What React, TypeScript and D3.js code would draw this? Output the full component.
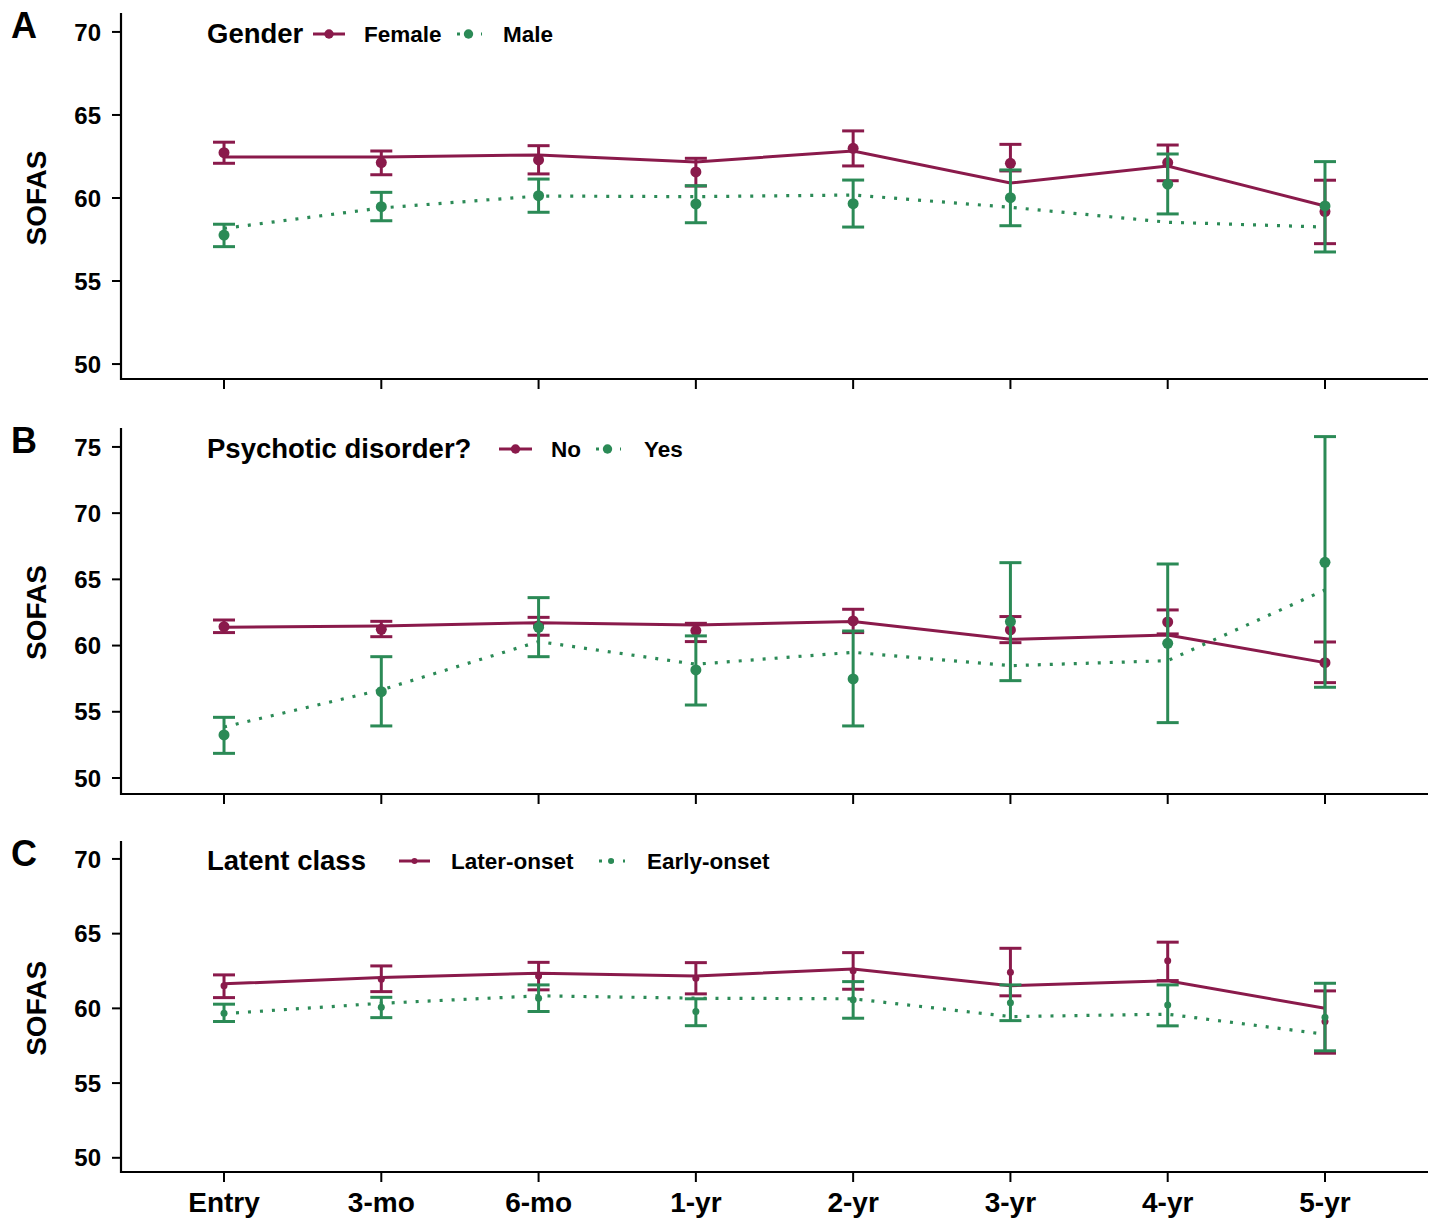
import React from "react";
import * as d3 from "d3";

const timepoints = ["Entry", "3-mo", "6-mo", "1-yr", "2-yr", "3-yr", "4-yr", "5-yr"];

// Panel A: Gender
const femaleFit = [62.47, 62.47, 62.59, 62.17, 62.83, 60.9, 61.93, 59.52];
const femaleMean = [62.73, 62.13, 62.29, 61.57, 62.99, 62.09, 62.13, 59.18];
const femaleLo = [62.09, 61.4, 61.45, 60.72, 61.93, 61.63, 61.04, 57.25];
const femaleHi = [63.36, 62.83, 63.15, 62.39, 64.04, 63.23, 63.19, 61.07];
const maleFit = [58.17, 59.4, 60.12, 60.08, 60.18, 59.44, 58.54, 58.25];
const maleMean = [57.77, 59.48, 60.14, 59.64, 59.66, 60.02, 60.83, 59.52];
const maleLo = [57.07, 58.63, 59.14, 58.51, 58.25, 58.33, 59.04, 56.75];
const maleHi = [58.42, 60.34, 61.14, 60.74, 61.08, 61.69, 62.65, 62.19];

// Panel B: Psychotic disorder?
const noFit = [61.38, 61.48, 61.73, 61.56, 61.81, 60.47, 60.8, 58.71];
const noMean = [61.43, 61.23, 61.5, 61.13, 61.86, 61.18, 61.78, 58.71];
const noLo = [60.98, 60.67, 60.78, 60.3, 60.98, 60.22, 60.88, 57.2];
const noHi = [61.93, 61.83, 62.13, 61.68, 62.74, 62.19, 62.69, 60.27];
const yesFit = [53.85, 56.65, 60.3, 58.59, 59.49, 58.48, 58.86, 64.2];
const yesMean = [53.25, 56.52, 61.38, 58.16, 57.48, 61.81, 60.17, 66.29];
const yesLo = [51.86, 53.93, 59.16, 55.51, 53.93, 57.35, 54.18, 56.85];
const yesHi = [54.58, 59.16, 63.62, 60.73, 61.1, 66.26, 66.16, 75.78];

// Panel C: Latent class
const laterFit = [61.64, 62.06, 62.35, 62.17, 62.64, 61.52, 61.84, 60.01];
const laterMean = [61.51, 61.95, 62.17, 62.02, 62.51, 62.42, 63.18, 59.12];
const laterLo = [60.72, 61.12, 61.24, 60.97, 61.28, 60.84, 61.86, 57.0];
const laterHi = [62.24, 62.84, 63.08, 63.06, 63.73, 64.02, 64.43, 61.17];
const earlyFit = [59.65, 60.34, 60.84, 60.68, 60.64, 59.45, 59.61, 58.27];
const earlyMean = [59.68, 60.07, 60.68, 59.79, 60.57, 60.38, 60.23, 59.41];
const earlyLo = [59.12, 59.38, 59.79, 58.84, 59.34, 59.18, 58.83, 57.16];
const earlyHi = [60.28, 60.74, 61.57, 60.64, 61.79, 61.57, 61.57, 61.68];

const ticksA = [50, 55, 60, 65, 70];
const ticksB = [50, 55, 60, 65, 70, 75];
const ticksC = [50, 55, 60, 65, 70];

const RED = "#8A1A4B";
const GREEN = "#2B8A56";
const FONT = "'Liberation Sans', Arial, Helvetica, sans-serif";

type Series = { name: string; fit: number[]; mean: number[]; lo: number[]; hi: number[] };

const panels = [
  {
    letter: "A", title: "Gender", top: 13, bottom: 379, domain: [49.1, 71.14], ticks: ticksA, r: 5.5,
    series: [
      { name: "Female", fit: femaleFit, mean: femaleMean, lo: femaleLo, hi: femaleHi },
      { name: "Male", fit: maleFit, mean: maleMean, lo: maleLo, hi: maleHi },
    ] as Series[],
    leg: { ty: 43, ky: 34, k1: [313, 345], l1: 364, k2: [455, 482], l2: 503 },
  },
  {
    letter: "B", title: "Psychotic disorder?", top: 428, bottom: 794, domain: [48.79, 76.43], ticks: ticksB, r: 5.5,
    series: [
      { name: "No", fit: noFit, mean: noMean, lo: noLo, hi: noHi },
      { name: "Yes", fit: yesFit, mean: yesMean, lo: yesLo, hi: yesHi },
    ] as Series[],
    leg: { ty: 458, ky: 449, k1: [499, 532], l1: 551, k2: [594, 621], l2: 644 },
  },
  {
    letter: "C", title: "Latent class", top: 841, bottom: 1172, domain: [49.05, 71.2], ticks: ticksC, r: 3.5,
    series: [
      { name: "Later-onset", fit: laterFit, mean: laterMean, lo: laterLo, hi: laterHi },
      { name: "Early-onset", fit: earlyFit, mean: earlyMean, lo: earlyLo, hi: earlyHi },
    ] as Series[],
    leg: { ty: 870, ky: 861, k1: [399, 430], l1: 451, k2: [597, 625], l2: 647 },
  },
];

const X0 = 121;
const X1 = 1428;

export default function App() {
  const x = d3.scalePoint<string>().domain(timepoints).range([X0, X1]).padding(0.655);
  const colors = [RED, GREEN];
  const dashes = [null, "3 9"];

  return (
    <svg width={1434} height={1218} style={{ position: "absolute", left: 0, top: 0, background: "#fff" }} fontFamily={FONT}>
      <rect x={0} y={0} width={1434} height={1218} fill="#fff" />
      {panels.map((p, pi) => {
        const y = d3.scaleLinear().domain(p.domain).range([p.bottom, p.top]);
        const line = d3.line<number>().x((_, i) => x(timepoints[i])!).y((v) => y(v));
        const midY = (y(p.ticks[0]) + y(p.ticks[p.ticks.length - 1])) / 2;
        return (
          <g key={pi}>
            {/* panel letter */}
            <text x={11} y={p.top + 25} fontSize={36} fontWeight="bold">{p.letter}</text>
            {/* y axis */}
            <line x1={X0} x2={X0} y1={p.top} y2={p.bottom + 1} stroke="#000" strokeWidth={2.2} />
            {p.ticks.map((t) => (
              <g key={t}>
                <line x1={X0 - 9} x2={X0} y1={y(t)} y2={y(t)} stroke="#000" strokeWidth={2} />
                <text x={X0 - 20} y={y(t)} dy="0.36em" textAnchor="end" fontSize={24} fontWeight="bold">{t}</text>
              </g>
            ))}
            <text transform={`translate(46,${midY}) rotate(-90)`} textAnchor="middle" fontSize={28} fontWeight="bold">SOFAS</text>
            {/* x axis */}
            <line x1={X0 - 1} x2={X1} y1={p.bottom} y2={p.bottom} stroke="#000" strokeWidth={2.2} />
            {timepoints.map((tp) => (
              <line key={tp} x1={x(tp)} x2={x(tp)} y1={p.bottom} y2={p.bottom + 10} stroke="#000" strokeWidth={2} />
            ))}
            {pi === 2 && timepoints.map((tp) => (
              <text key={tp} x={x(tp)} y={1212} textAnchor="middle" fontSize={28} fontWeight="bold">{tp}</text>
            ))}
            {/* data */}
            {p.series.map((s, si) => (
              <g key={s.name}>
                <path d={line(s.fit)!} fill="none" stroke={colors[si]} strokeWidth={si === 0 ? 3 : 3.2}
                  strokeDasharray={dashes[si] ?? undefined} />
                {s.mean.map((m, i) => {
                  const cx = x(timepoints[i])!;
                  return (
                    <g key={i}>
                      <line x1={cx} x2={cx} y1={y(s.lo[i])} y2={y(s.hi[i])} stroke={colors[si]} strokeWidth={3} />
                      <line x1={cx - 11} x2={cx + 11} y1={y(s.lo[i])} y2={y(s.lo[i])} stroke={colors[si]} strokeWidth={3} />
                      <line x1={cx - 11} x2={cx + 11} y1={y(s.hi[i])} y2={y(s.hi[i])} stroke={colors[si]} strokeWidth={3} />
                      <circle cx={cx} cy={y(m)} r={p.r} fill={colors[si]} />
                    </g>
                  );
                })}
              </g>
            ))}
            {/* legend */}
            <text x={207} y={p.leg.ty} fontSize={27.5} fontWeight="bold">{p.title}</text>
            <line x1={p.leg.k1[0]} x2={p.leg.k1[1]} y1={p.leg.ky} y2={p.leg.ky} stroke={RED} strokeWidth={3} />
            <circle cx={(p.leg.k1[0] + p.leg.k1[1]) / 2} cy={p.leg.ky} r={p.r * 0.85} fill={RED} />
            <text x={p.leg.l1} y={p.leg.ty - 1} fontSize={22.5} fontWeight="bold">{p.series[0].name}</text>
            <line x1={p.leg.k2[0]} x2={p.leg.k2[1]} y1={p.leg.ky} y2={p.leg.ky} stroke={GREEN} strokeWidth={3.2} strokeDasharray="3 9" strokeDashoffset={-2} />
            <circle cx={(p.leg.k2[0] + p.leg.k2[1]) / 2} cy={p.leg.ky} r={p.r * 0.85} fill={GREEN} />
            <text x={p.leg.l2} y={p.leg.ty - 1} fontSize={22.5} fontWeight="bold">{p.series[1].name}</text>
          </g>
        );
      })}
    </svg>
  );
}
